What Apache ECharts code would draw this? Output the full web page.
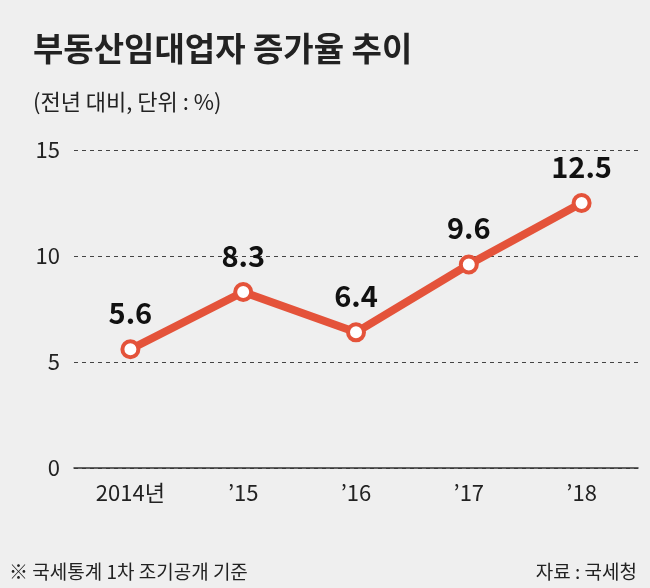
<!DOCTYPE html>
<html><head><meta charset="utf-8">
<script src="https://cdn.jsdelivr.net/npm/echarts@6/dist/echarts.min.js"></script>
<style>body{margin:0;background:#efefef}#c{width:650px;height:588px}</style>
</head><body><div id="c"></div>
<script>
// 부동산임대업자 증가율
var years = ['2014년', '’15', '’16', '’17', '’18']
var rates = [5.6, 8.3, 6.4, 9.6, 12.5]
var yTicks = [0, 5, 10, 15]

var font = '"Noto Sans CJK KR", sans-serif'
var chart = echarts.init(document.getElementById('c'))
chart.setOption({
  backgroundColor: '#efefef',
  textStyle: {fontFamily: font},
  title: [
    {text: '부동산임대업자 증가율 추이', left: 28, top: 27,
      textStyle: {fontSize: 33, fontWeight: 'bold', color: '#222', fontFamily: font}},
    {text: '(전년 대비, 단위 : %)', left: 28, top: 86,
      textStyle: {fontSize: 22, fontWeight: 'normal', color: '#222', fontFamily: font}},
    {text: '※ 국세통계 1차 조기공개 기준', left: 4, top: 557,
      textStyle: {fontSize: 19, fontWeight: 'normal', color: '#222', fontFamily: font}},
    {text: '자료 : 국세청', right: 8, top: 557,
      textStyle: {fontSize: 19, fontWeight: 'normal', color: '#222', fontFamily: font}}
  ],
  grid: {left: 74, right: 12, top: 150, bottom: 120},
  xAxis: {
    type: 'category', data: years, boundaryGap: true,
    axisLine: {lineStyle: {color: '#333', width: 1.5}},
    axisTick: {alignWithLabel: true, length: 10, lineStyle: {color: '#333'}},
    axisLabel: {fontSize: 22, color: '#222', margin: 14}
  },
  yAxis: {
    type: 'value', min: yTicks[0], max: yTicks[yTicks.length - 1], interval: 5,
    axisLabel: {fontSize: 22, color: '#222', margin: 14, align: 'right'},
    splitLine: {lineStyle: {type: [4, 4], color: '#444'}},
    axisLine: {show: false}, axisTick: {show: false}
  },
  series: [{
    type: 'line', data: rates,
    lineStyle: {color: '#e4533a', width: 8},
    symbol: 'circle', symbolSize: 16,
    itemStyle: {color: '#fff', borderColor: '#e4533a', borderWidth: 4},
    label: {show: true, position: 'top', distance: 12, fontSize: 29, fontWeight: 'bold', color: '#111'}
  }]
})
</script></body></html>
